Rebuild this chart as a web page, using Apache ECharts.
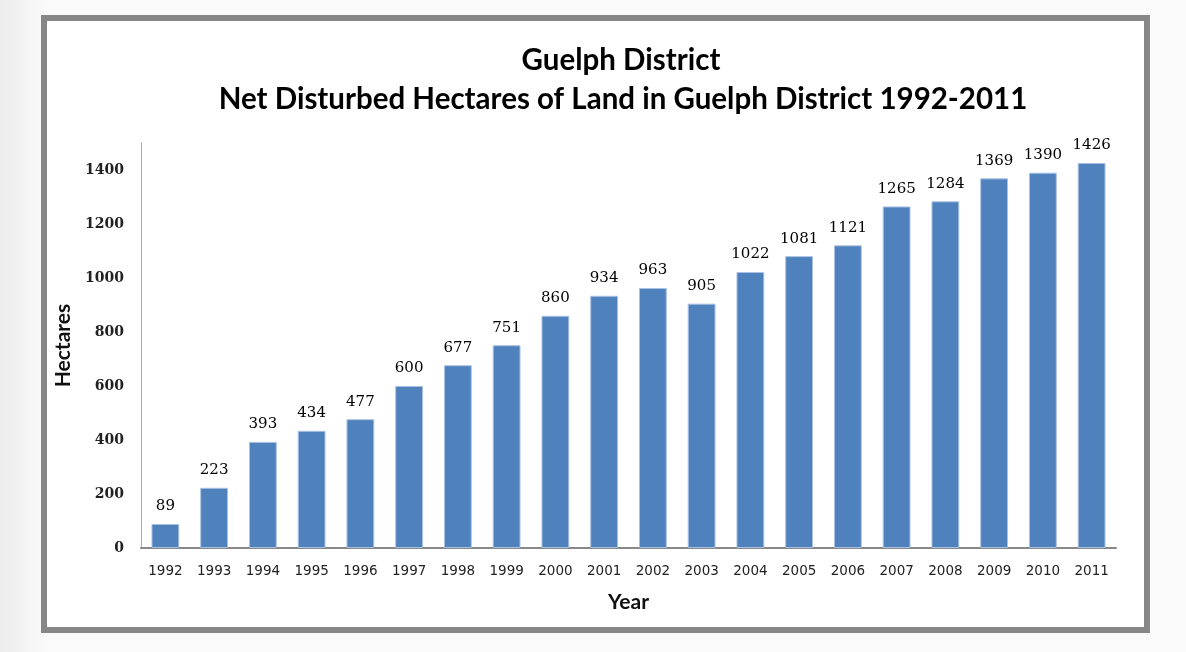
<!DOCTYPE html>
<html>
<head>
<meta charset="utf-8">
<script src="https://cdn.jsdelivr.net/npm/echarts@6/dist/echarts.min.js"></script>
<style>
html,body{margin:0;padding:0;background:#fafafa;}
#chart{width:1186px;height:652px;}
</style>
</head>
<body>
<div id="chart"></div>
<script>
const titleLine1 = 'Guelph District';
const titleLine2 = 'Net Disturbed Hectares of Land in Guelph District 1992-2011';
const years = ['1992','1993','1994','1995','1996','1997','1998','1999','2000','2001','2002','2003','2004','2005','2006','2007','2008','2009','2010','2011'];
const hectares = [89,223,393,434,477,600,677,751,860,934,963,905,1022,1081,1121,1265,1284,1369,1390,1426];
const yAxisName = 'Hectares';
const xAxisName = 'Year';

const chart = echarts.init(document.getElementById('chart'));
chart.setOption({
  animation: false,
  backgroundColor: '#fafafa',
  graphic: [
    {type:'rect', z:-10, shape:{x:0,y:0,width:45,height:652},
     style:{fill:new echarts.graphic.LinearGradient(0,0,1,0,[{offset:0,color:'#ececec'},{offset:1,color:'#fafafa'}])}},
    {type:'rect', z:-5, shape:{x:44,y:18,width:1103,height:612},
     style:{fill:'#ffffff', stroke:'#878787', lineWidth:6}}
  ],
  title: [
    {text: titleLine1, left: 616, top: 40, textAlign: 'center',
     textStyle:{fontFamily:'Lato', fontWeight:'bold', fontSize:29.5, color:'#000'}},
    {text: titleLine2, left: 618, top: 79, textAlign: 'center',
     textStyle:{fontFamily:'Lato', fontWeight:'bold', fontSize:29.5, color:'#000'}}
  ],
  grid: {left:141, right:70, top:143, bottom:104, containLabel:false},
  xAxis: {
    type:'category', data: years,
    name: xAxisName, nameLocation:'middle', nameGap:44,
    nameTextStyle:{fontFamily:'Lato', fontWeight:'bold', fontSize:21, color:'#111'},
    axisLine:{lineStyle:{color:'#888', width:2}},
    axisTick:{show:false},
    axisLabel:{fontFamily:'DejaVu Sans', fontSize:13.5, color:'#222', margin:16, interval:0}
  },
  yAxis: {
    type:'value', min:0, max:1500, interval:200,
    name: yAxisName, nameLocation:'middle', nameGap:67, nameRotate:90,
    nameTextStyle:{fontFamily:'Lato', fontWeight:'bold', fontSize:21, color:'#111'},
    axisLine:{show:true, lineStyle:{color:'#aaa', width:1}},
    axisTick:{show:false},
    splitLine:{show:false},
    axisLabel:{fontFamily:'DejaVu Serif', fontWeight:'bold', fontSize:14, color:'#222', margin:17, showMaxLabel:false,
               formatter: function(v){ return String(v); }}
  },
  series: [{
    type:'bar', data: hectares, barWidth:'57%',
    itemStyle:{color:'#4f81bd', borderColor:'#a9c1e3', borderWidth:1},
    label:{show:true, position:'top', distance:10, fontFamily:'DejaVu Serif', fontSize:15, color:'#000'}
  }]
});
</script>
</body>
</html>
